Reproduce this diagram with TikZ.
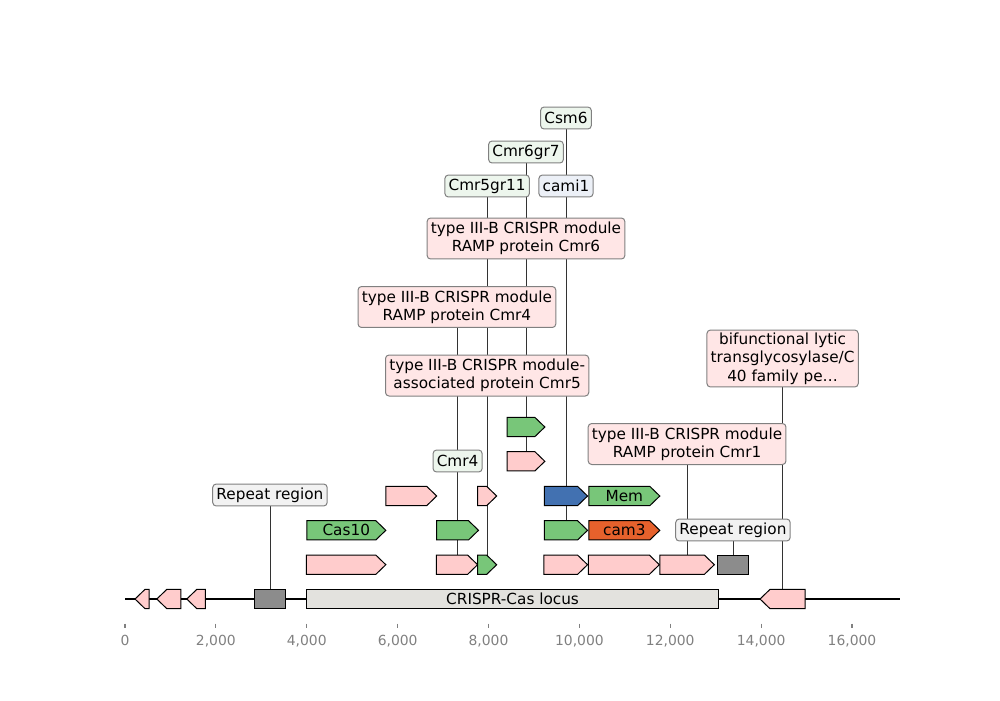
\documentclass[tikz,border=0pt]{standalone}
\usepackage{fontspec}
\setmainfont{DejaVu Sans}
\usetikzlibrary{backgrounds}

\definecolor{cdspink}{HTML}{FFCCCC}
\definecolor{cdsgreen}{HTML}{78C679}
\definecolor{cdsblue}{HTML}{4271B1}
\definecolor{cdsorange}{HTML}{E6612C}
\definecolor{repgray}{HTML}{8C8C8C}
\definecolor{locusfill}{HTML}{E3E2DE}
\definecolor{lblpink}{HTML}{FFE6E6}
\definecolor{lblgreen}{HTML}{EDF6ED}
\definecolor{lblblue}{HTML}{ECF0F7}
\definecolor{lblgray}{HTML}{F2F2F2}
\definecolor{lbledge}{HTML}{808080}
\definecolor{tickgray}{HTML}{808080}

\newcommand{\fwd}[5]{% name, start, end, y, colour
  \filldraw[gene, fill=#5] (#2,#4-9.65) -- (#3-0.22,#4-9.65) -- (#3,#4) -- (#3-0.22,#4+9.65) -- (#2,#4+9.65) -- cycle;
  \coordinate (#1) at ({(#2+#3)/2},#4);}
\newcommand{\rev}[5]{%
  \filldraw[gene, fill=#5] (#2,#4) -- (#2+0.22,#4-9.65) -- (#3,#4-9.65) -- (#3,#4+9.65) -- (#2+0.22,#4+9.65) -- cycle;
  \coordinate (#1) at ({(#2+#3)/2},#4);}
\newcommand{\blk}[5]{%
  \filldraw[gene, fill=#5] (#2,#4-9.65) rectangle (#3,#4+9.65);
  \coordinate (#1) at ({(#2+#3)/2},#4);}

\begin{document}
\begin{tikzpicture}[x=32.715pt, y=-0.72pt,
  gene/.style={draw=black, line width=0.72pt},
  lbl/.style={draw=lbledge, line width=0.72pt, rounded corners=2.5pt, inner xsep=2.7pt, inner ysep=0pt,
    align=center, font=\fontsize{11}{13.2}\selectfont, minimum height=15.8pt},
  lbltwo/.style={lbl, minimum height=29.5pt},
  lblthree/.style={lbl, minimum height=41pt},
  lead/.style={black!80, line width=0.5pt},
  intxt/.style={font=\fontsize{11}{13.2}\selectfont, inner sep=0pt},
  ticklbl/.style={font=\fontsize{10}{12}\selectfont, text=tickgray, anchor=north, inner sep=0pt}]

\useasboundingbox (-2.751,0) rectangle (19.257,700);

\draw[line width=1.44pt] (0,599) -- (17.05,599);

\rev{fa}{0.22}{0.53}{599}{cdspink}
\rev{fb}{0.70}{1.23}{599}{cdspink}
\rev{fc}{1.36}{1.77}{599}{cdspink}
\blk{repa}{2.84}{3.54}{599}{repgray}
\blk{locus}{3.99}{13.07}{599}{locusfill}
\node[intxt] (locustxt) at (locus) {CRISPR-Cas locus};
\rev{lyt}{13.975}{14.97}{599}{cdspink}

\fwd{pa}{3.99}{5.74}{564.7}{cdspink}
\fwd{pb}{6.85}{7.76}{564.7}{cdspink}
\fwd{ga}{7.76}{8.18}{564.7}{cdsgreen}
\fwd{pc}{9.22}{10.18}{564.7}{cdspink}
\fwd{pd}{10.2}{11.76}{564.7}{cdspink}
\fwd{pe}{11.77}{12.97}{564.7}{cdspink}
\blk{repb}{13.03}{13.73}{564.7}{repgray}

\fwd{cas}{4.0}{5.74}{530.3}{cdsgreen}
\fwd{gb}{6.86}{7.78}{530.3}{cdsgreen}
\fwd{gc}{9.23}{10.18}{530.3}{cdsgreen}
\fwd{cam}{10.21}{11.77}{530.3}{cdsorange}
\node[intxt] (castxt) at (cas) {Cas10};
\node[intxt] (camtxt) at (cam) {cam3};

\fwd{pf}{5.74}{6.86}{496}{cdspink}
\fwd{pg}{7.76}{8.18}{496}{cdspink}
\fwd{bl}{9.23}{10.18}{496}{cdsblue}
\fwd{mem}{10.21}{11.77}{496}{cdsgreen}
\node[intxt] (memtxt) at (mem) {Mem};

\fwd{ph}{8.41}{9.24}{461.3}{cdspink}
\fwd{gd}{8.41}{9.24}{427}{cdsgreen}

\node[lbl, fill=lblgray] (lrepa) at (repa |- 0,495) {Repeat region};
\node[lbl, fill=lblgreen] (lcmrfour) at (gb |- 0,461) {Cmr4};
\node[lbltwo, fill=lblpink] (lrampfour) at (pb |- 0,307) {type III-B CRISPR module\\RAMP protein Cmr4};
\node[lbltwo, fill=lblpink] (lcmrfive) at (pg |- 0,375.5) {type III-B CRISPR module-\\associated protein Cmr5};
\node[lbltwo, fill=lblpink] (lrampsix) at (ph |- 0,238.5) {type III-B CRISPR module\\RAMP protein Cmr6};
\node[lbl, fill=lblgreen] (lfivegr) at (ga |- 0,186) {Cmr5gr11};
\node[lbl, fill=lblgreen] (lsixgr) at (gd |- 0,152) {Cmr6gr7};
\node[lbl, fill=lblblue] (lcami) at (gc |- 0,186) {cami1};
\node[lbl, fill=lblgreen] (lcsm) at (bl |- 0,118) {Csm6};
\node[lbltwo, fill=lblpink] (lrampone) at (pe |- 0,444) {type III-B CRISPR module\\RAMP protein Cmr1};
\node[lbl, fill=lblgray] (lrepb) at (repb |- 0,530) {Repeat region};
\node[lblthree, fill=lblpink] (lbif) at (lyt |- 0,358.5) {bifunctional lytic\\transglycosylase/C\\40 family pe…};

\begin{scope}[on background layer]
  \draw[lead] (repa) -- (lrepa);
  \draw[lead] (gb) -- (lcmrfour);
  \draw[lead] (pb) -- (lrampfour);
  \draw[lead] (pg) -- (lcmrfive);
  \draw[lead] (ph) -- (lrampsix);
  \draw[lead] (ga) -- (lfivegr);
  \draw[lead] (gd) -- (lsixgr);
  \draw[lead] (gc) -- (lcami);
  \draw[lead] (bl) -- (lcsm);
  \draw[lead] (pe) -- (lrampone);
  \draw[lead] (repb) -- (lrepb);
  \draw[lead] (lyt) -- (lbif);
\end{scope}

\foreach \t/\lab in {0/0, 2/{2,000}, 4/{4,000}, 6/{6,000}, 8/{8,000}, 10/{10,000}, 12/{12,000}, 14/{14,000}, 16/{16,000}} {
  \draw[tickgray, line width=0.8pt] (\t,623.5) -- (\t,628.4);
  \node[ticklbl] (tk\t) at (\t,634.5) {\lab};
}
\end{tikzpicture}
\end{document}
